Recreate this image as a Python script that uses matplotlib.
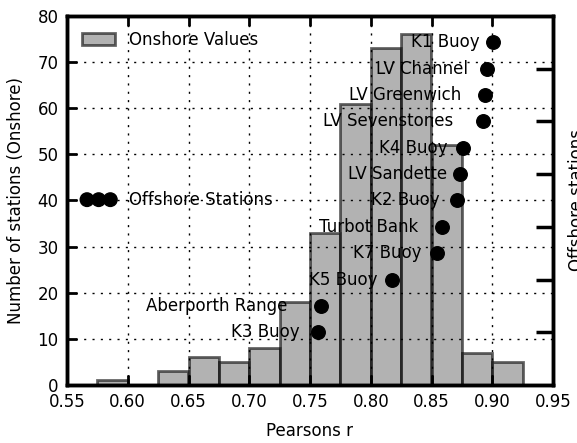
import matplotlib
matplotlib.use("Agg")
import matplotlib.pyplot as plt
import numpy as np

# ---- data ----
bin_edges = [0.575, 0.600, 0.625, 0.650, 0.675, 0.700, 0.725, 0.750,
             0.775, 0.800, 0.825, 0.850, 0.875, 0.900, 0.925]
onshore_counts = [1, 0, 3, 6, 5, 8, 18, 33, 61, 73, 76, 52, 7, 5]

stations = ["K3 Buoy", "Aberporth Range", "K5 Buoy", "K7 Buoy", "Turbot Bank",
            "K2 Buoy", "LV Sandette", "K4 Buoy", "LV Sevenstones",
            "LV Greenwich", "LV Channel", "K1 Buoy"]
station_r = [0.7566, 0.759, 0.8175, 0.8545, 0.8586, 0.871, 0.8735, 0.8759,
             0.8924, 0.894, 0.8957, 0.9006]
station_rank = [2, 3, 4, 5, 6, 7, 8, 9, 10, 11, 12, 13]
label_gap_px = [18, 34, 15, 15, 24, 17, 13, 15, 30, 24, 19, 13]

xticks = [0.55, 0.60, 0.65, 0.70, 0.75, 0.80, 0.85, 0.90, 0.95]
yticks = [0, 10, 20, 30, 40, 50, 60, 70, 80]

plt.rcParams['font.family'] = ['DejaVu Sans']
plt.rcParams['font.size'] = 12

fig = plt.figure(figsize=(5.77, 4.43), dpi=100)
ax = fig.add_axes([67/577, 1-385/443, (553-67)/577, (385-16)/443])

centers = [(bin_edges[i] + bin_edges[i+1]) / 2 for i in range(len(onshore_counts))]
ax.hist(centers, bins=bin_edges, weights=onshore_counts, color='gray',
        alpha=0.6, edgecolor='black', linewidth=2, label='Onshore Values')
ax.set_xlim(0.55, 0.95)
ax.set_ylim(0, 80)
ax.set_xticks(xticks)
ax.set_xticklabels([f"{t:.2f}" for t in xticks])
ax.set_yticks(yticks)
ax.grid(True, linestyle=(0, (1.5, 4.5)), color='black', linewidth=1)
ax.set_axisbelow(False)
ax.tick_params(direction='in', length=7, width=2, top=True, right=False,
               labelsize=12, pad=6)
ax.set_xlabel('Pearsons r', fontsize=12, labelpad=8)
ax.set_ylabel('Number of stations (Onshore)', fontsize=12, labelpad=9)
for s in ax.spines.values():
    s.set_linewidth(2.5)
ax.legend(loc='upper left', frameon=False, fontsize=12)

ax2 = ax.twinx()
ax2.scatter(station_r, station_rank, s=95, color='black', zorder=5,
            label='Offshore Stations')
for name, r, k, g in zip(stations, station_r, station_rank, label_gap_px):
    ax2.annotate(name, (r, k), xytext=(-g, 0), textcoords='offset pixels',
                 ha='right', va='center', fontsize=12)
ax2.set_ylim(0, 14)
ax2.set_yticks([2, 4, 6, 8, 10, 12])
ax2.set_yticklabels([])
ax2.tick_params(direction='in', length=12, width=2.5, right=True)
ax2.set_ylabel('Offshore stations', fontsize=12, labelpad=7)
for s in ax2.spines.values():
    s.set_linewidth(2.5)
ax2.legend(loc='center left', frameon=False, fontsize=12, scatterpoints=3,
           scatteryoffsets=[0.5])
ax2.set_xlim(0.55, 0.95)

fig.savefig('out.png', dpi=100)
